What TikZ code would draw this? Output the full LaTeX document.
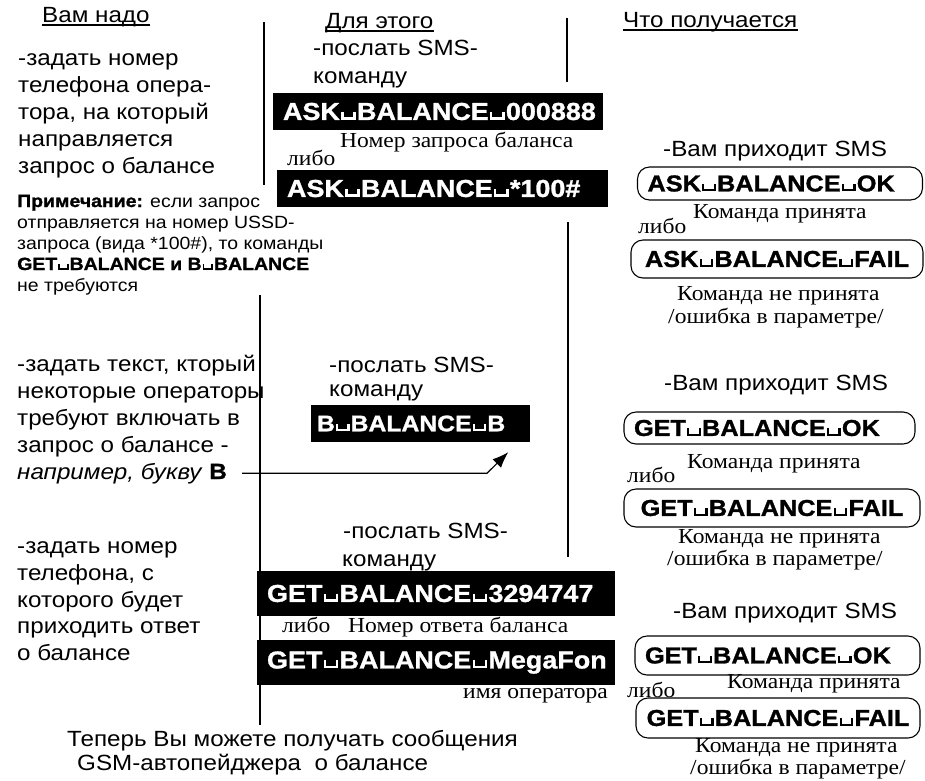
\documentclass[tikz,border=0pt]{standalone}
\usepackage{fontspec}
\setmainfont{Liberation Sans}[FakeStretch=1.1, BoldFeatures={FakeBold=1.2}]
\newfontfamily\srffont{Liberation Serif}[FakeStretch=1.1]
\usetikzlibrary{arrows.meta}
\newcommand\vsp{\kern0.05em\rule{0.1em}{0.34em}\rule{0.4em}{0.1em}\rule{0.1em}{0.34em}\kern0.05em}
\begin{document}
\begin{tikzpicture}[x=1pt,y=-1pt,
 txt/.style={anchor=base west, inner sep=0pt, font=\fontsize{22}{27}\selectfont},
 nt/.style={anchor=base west, inner sep=0pt, font=\fontsize{17.7}{21}\selectfont},
 srf/.style={anchor=base west, inner sep=0pt, font=\srffont\fontsize{21.4}{24}\selectfont},
 cmd/.style={fill=black, text=white, inner ysep=0pt, inner xsep=10pt, align=left, font=\bfseries\fontsize{24.5}{28}\selectfont},
 rbox/.style={draw, line width=1.1pt, rounded corners=12pt, inner ysep=0pt, inner xsep=10pt, font=\bfseries\fontsize{23}{28}\selectfont},
 sepl/.style={line width=2.6pt},
 arr/.style={line width=1.1pt, -{Latex[length=16pt,width=12pt]}},
 uline/.style={line width=1.1pt}]
\fill[white] (0,0) rectangle (925,780);
\useasboundingbox (0,0) rectangle (925,780);

% headers
\node[txt] (h1) at (42,22) {Вам надо};
\node[txt] (h2) at (325,28) {Для этого};
\node[txt] (h3) at (623,27) {Что получается};
\foreach \h in {h1,h2,h3}
  \draw[uline] ([yshift=-3pt]\h.base west) -- ([yshift=-3pt]\h.base east);

% separators
\draw[sepl] (264,22) -- (264,185);
\draw[sepl] (260,295) -- (260,725);
\draw[sepl] (567,18) -- (567,82);
\draw[sepl] (568,222) -- (568,557);

% left column
\foreach \s/\yy [count=\i] in {{-задать номер}/65,{телефона опера-}/92,{тора, на который}/119,{направляется}/146,{запрос о балансе}/173}
  \node[txt] (la\i) at (18,\yy) {\s};
\node[nt] (n1) at (17,207) {\textbf{Примечание:} если запрос};
\node[nt] (n2) at (17,228) {отправляется на номер USSD-};
\node[nt] (n3) at (17,249) {запроса (вида *100\#), то команды};
\node[nt] (n4) at (17,270) {\textbf{GET\vsp BALANCE и B\vsp BALANCE}};
\node[nt] (n5) at (17,291) {не требуются};
\foreach \s/\yy [count=\i] in {{-задать текст, кторый}/371,{некоторые операторы}/398,{требуют включать в}/425,{запрос о балансе -}/452}
  \node[txt] (lb\i) at (17,\yy) {\s};
\node[txt] (lb5) at (17,479) {\textit{например, букву} \textbf{B}};
\foreach \s/\yy [count=\i] in {{-задать номер}/553,{телефона, с}/580,{которого будет}/607,{приходить ответ}/633,{о балансе}/660}
  \node[txt] (lc\i) at (17,\yy) {\s};
\node[txt] (t1) at (67,746) {Теперь Вы можете получать сообщения};
\node[txt] (t2) at (77,770) {GSM-автопейджера\ \ о балансе};

% middle column
\node[txt] (m1) at (313,55) {-послать SMS-};
\node[txt] (m2) at (313,83) {команду};
\node[cmd, text width=310pt, minimum height=37pt] (c1) at (438,111.5) {ASK\vsp BALANCE\vsp 000888};
\node[srf] (s1) at (340,147) {Номер запроса баланса};
\node[srf] (s2) at (287,165) {либо};
\node[cmd, text width=311pt, minimum height=37pt] (c2) at (442.5,188.5) {ASK\vsp BALANCE\vsp *100\#};

\node[txt] (m3) at (329,372) {-послать SMS-};
\node[txt] (m4) at (329,396) {команду};
\node[cmd, inner xsep=6pt, text width=207pt, minimum height=37pt, font=\bfseries\fontsize{22.5}{26}\selectfont] (c3) at (420.5,423.5) {B\vsp BALANCE\vsp B};

\node[txt] (m5) at (343,538) {-послать SMS-};
\node[txt] (m6) at (342,566) {команду};
\node[cmd, text width=338pt, minimum height=45pt] (c4) at (436,593.5) {GET\vsp BALANCE\vsp 3294747};
\node[srf] (s3) at (282,632) {либо};
\node[srf] (s4) at (348,632) {Номер ответа баланса};
\node[cmd, text width=338pt, minimum height=45pt] (c5) at (436,662.5) {GET\vsp BALANCE\vsp MegaFon};
\node[srf] (s5) at (463,698) {имя оператора};

% arrow
\coordinate (ax) at (242,0);
\coordinate (bx) at (487,0);
\draw[arr] (ax |- lb5.east) -- (bx |- lb5.east) -- ([xshift=-22pt,yshift=-10pt]c3.south east);

% right column
\node[txt] (q1) at (663,156) {-Вам приходит SMS};
\node[rbox, text width=265pt, align=left, minimum height=33pt] (r1) at (780,183.5) {ASK\vsp BALANCE\vsp OK};
\node[srf] (k1) at (693,218) {Команда принята};
\node[srf] (k2) at (638,233) {либо};
\node[rbox, text width=272pt, align=center, minimum height=38pt] (r2) at (777,259) {ASK\vsp BALANCE\vsp FAIL};
\node[srf] (k3) at (677,300) {Команда не принята};
\node[srf] (k4) at (668,323) {/ошибка в параметре/};

\node[txt] (q2) at (664,390) {-Вам приходит SMS};
\node[rbox, text width=271pt, align=left, minimum height=32pt] (r3) at (769.5,428) {GET\vsp BALANCE\vsp OK};
\node[srf] (k5) at (687,468) {Команда принята};
\node[srf] (k6) at (627,482) {либо};
\node[rbox, text width=276pt, align=center, minimum height=38pt] (r4) at (772,508) {GET\vsp BALANCE\vsp FAIL};
\node[srf] (k7) at (678,543) {Команда не принята};
\node[srf] (k8) at (667,565) {/ошибка в параметре/};

\node[txt] (q3) at (673,618) {-Вам приходит SMS};
\node[rbox, text width=265pt, align=left, minimum height=39pt] (r5) at (777.5,655.5) {GET\vsp BALANCE\vsp OK};
\node[srf] (k9) at (727,688) {Команда принята};
\node[srf] (k10) at (627,697) {либо};
\node[rbox, text width=264pt, align=center, minimum height=40pt] (r6) at (778,718) {GET\vsp BALANCE\vsp FAIL};
\node[srf] (k11) at (695,752) {Команда не принята};
\node[srf] (k12) at (690,774) {/ошибка в параметре/};
\end{tikzpicture}
\end{document}
